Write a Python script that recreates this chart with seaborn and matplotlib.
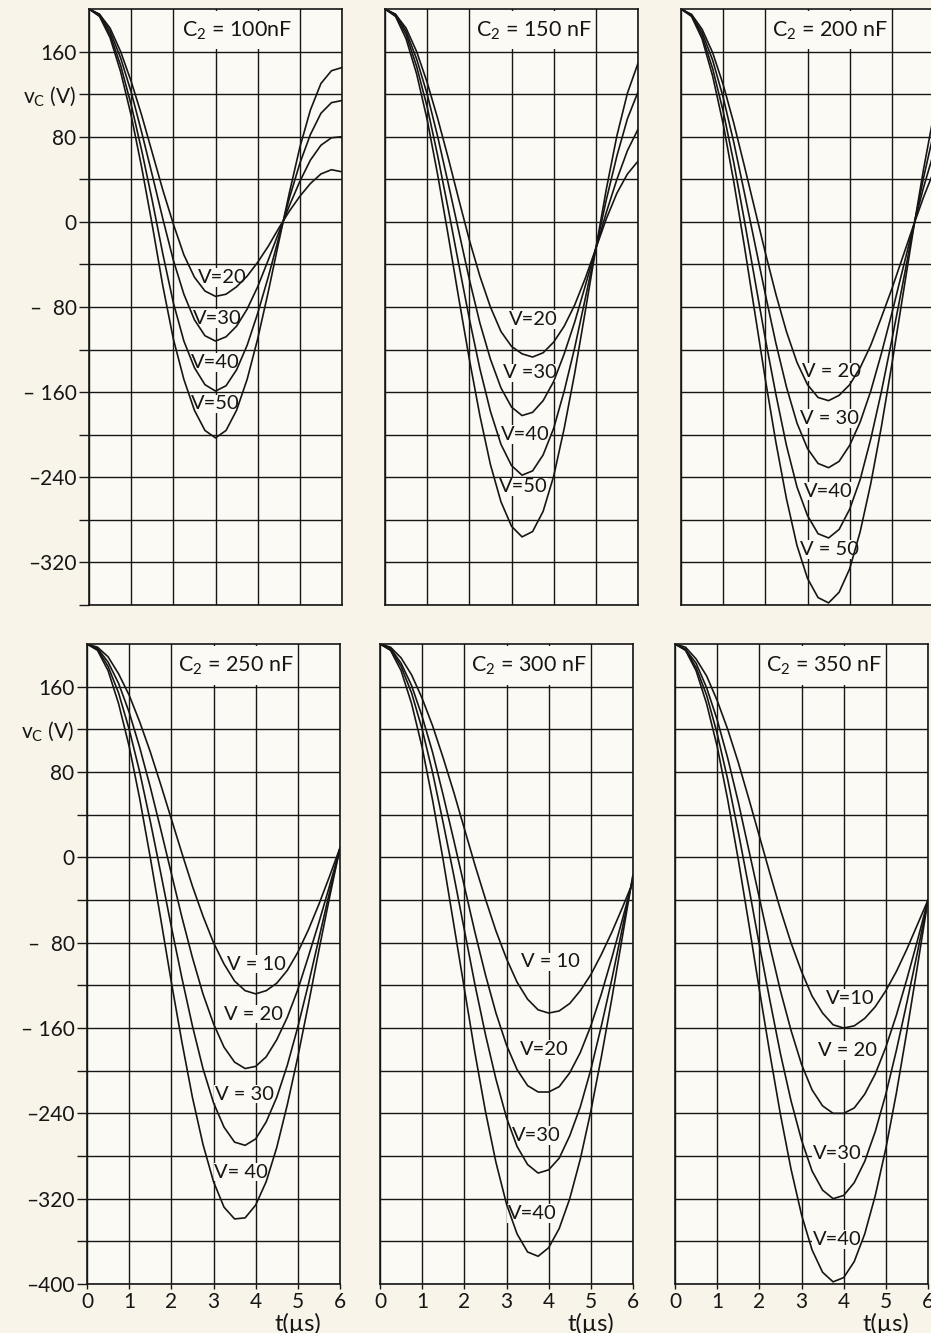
import matplotlib
matplotlib.use("Agg")
import matplotlib.pyplot as plt
import matplotlib.transforms as mtransforms
from matplotlib.patches import Rectangle
import seaborn as sns

# sample times (us), values every 0.25 us
t_us = [0, 0.25, 0.5, 0.75, 1, 1.25, 1.5, 1.75, 2, 2.25, 2.5, 2.75, 3,
        3.25, 3.5, 3.75, 4, 4.25, 4.5, 4.75, 5, 5.25, 5.5, 5.75, 6]

# C2 = 100 nF
c100_v20 = [200, 195, 182, 160, 132, 100, 65, 30, -2, -31, -52, -65, -70,
            -68, -61, -51, -38, -23, -6, 10, 24, 36, 45, 49, 47]
c100_v30 = [200, 195, 179, 154, 122, 84, 44, 3, -36, -68, -92, -107, -112,
            -108, -98, -82, -61, -36, -10, 15, 38, 58, 72, 79, 80]
c100_v40 = [200, 194, 176, 147, 110, 67, 20, -30, -76, -112, -137, -153, -159,
            -154, -139, -116, -86, -52, -15, 22, 55, 82, 102, 112, 114]
c100_v50 = [200, 193, 173, 141, 100, 51, -3, -60, -110, -148, -177, -196, -203,
            -196, -177, -148, -110, -66, -19, 27, 70, 105, 130, 142, 145]

# C2 = 150 nF
c150_v20 = [200, 195, 182, 160, 131, 97, 60, 21, -17, -51, -80, -103, -117,
            -124, -127, -123, -113, -98, -78, -53, -25, 3, 27, 45, 57]
c150_v30 = [200, 195, 179, 153, 120, 80, 36, -9, -54, -95, -129, -156, -174,
            -182, -179, -168, -150, -124, -94, -60, -25, 9, 40, 67, 87]
c150_v40 = [200, 194, 176, 146, 108, 62, 12, -40, -91, -138, -178, -209, -229,
            -238, -234, -219, -194, -159, -118, -72, -25, 21, 62, 97, 122]
c150_v50 = [200, 193, 172, 139, 96, 44, -13, -72, -129, -182, -228, -263, -286,
            -296, -291, -272, -239, -194, -142, -84, -25, 31, 81, 121, 149]

# C2 = 200 nF
c200_v20 = [200, 195, 181, 159, 129, 93, 53, 12, -29, -68, -103, -132, -153,
            -165, -168, -163, -153, -137, -116, -90, -63, -34, -5, 23, 48]
c200_v30 = [200, 194, 178, 152, 117, 75, 28, -20, -68, -114, -155, -189, -213,
            -227, -231, -225, -210, -188, -159, -124, -86, -46, -6, 32, 66]
c200_v40 = [200, 194, 175, 144, 104, 56, 2, -54, -110, -162, -210, -249, -276,
            -293, -297, -289, -270, -242, -204, -160, -111, -60, -8, 41, 85]
c200_v50 = [200, 193, 172, 137, 92, 38, -22, -85, -148, -207, -260, -304, -335,
            -353, -358, -348, -326, -291, -246, -193, -134, -72, -10, 49, 102]

# C2 = 250 nF
c250_v10 = [200, 197, 188, 172, 152, 127, 99, 68, 36, 4, -27, -55, -80,
            -100, -116, -125, -128, -125, -118, -106, -89, -68, -44, -18, 9]
c250_v20 = [200, 196, 183, 163, 136, 103, 66, 26, -15, -56, -94, -128, -156,
            -178, -192, -198, -196, -187, -171, -150, -124, -93, -61, -27, 8]
c250_v30 = [200, 195, 179, 154, 120, 80, 34, -15, -65, -113, -158, -198, -230,
            -253, -267, -270, -264, -248, -225, -195, -159, -119, -76, -33, 8]
c250_v40 = [200, 194, 175, 144, 104, 55, 0, -58, -117, -173, -225, -269, -304,
            -328, -339, -338, -326, -304, -272, -232, -187, -138, -87, -38, 9]

# C2 = 300 nF
c300_v10 = [200, 197, 187, 171, 149, 123, 93, 61, 27, -7, -39, -69, -95,
            -117, -133, -143, -146, -144, -137, -125, -110, -91, -70, -47, -23]
c300_v20 = [200, 196, 182, 161, 132, 98, 58, 16, -27, -70, -110, -146, -176,
            -199, -214, -220, -220, -215, -202, -183, -158, -128, -94, -58, -21]
c300_v30 = [200, 195, 179, 154, 120, 79, 32, -17, -68, -119, -166, -208, -244,
            -271, -288, -296, -293, -282, -261, -234, -199, -158, -114, -66, -18]
c300_v40 = [200, 194, 175, 144, 103, 53, -3, -63, -123, -183, -238, -286, -325,
            -353, -370, -374, -366, -348, -320, -283, -238, -187, -132, -74, -16]

# C2 = 350 nF
c350_v10 = [200, 197, 186, 170, 147, 120, 89, 55, 20, -15, -49, -80, -107,
            -130, -146, -157, -160, -158, -151, -140, -125, -107, -86, -63, -40]
c350_v20 = [200, 195, 182, 159, 129, 93, 52, 7, -38, -83, -125, -162, -194,
            -218, -233, -240, -240, -235, -222, -203, -178, -148, -114, -78, -40]
c350_v30 = [200, 195, 178, 152, 116, 73, 24, -28, -82, -134, -184, -228, -265,
            -294, -312, -320, -317, -305, -285, -257, -222, -181, -136, -89, -40]
c350_v40 = [200, 194, 175, 144, 104, 54, -2, -62, -124, -184, -241, -292, -335,
            -368, -389, -398, -394, -379, -353, -317, -273, -221, -163, -102, -40]

panel_titles = ["C$_2$ = 100nF", "C$_2$ = 150 nF", "C$_2$ = 200 nF",
                "C$_2$ = 250 nF", "C$_2$ = 300 nF", "C$_2$ = 350 nF"]

# (curve, label text, label position in data coords)
panel_curves = [
    [(c100_v20, "V=20", (3.15, -52)), (c100_v30, "V=30", (3.05, -91)),
     (c100_v40, "V=40", (3.0, -132)), (c100_v50, "V=50", (3.0, -171))],
    [(c150_v20, "V=20", (3.52, -92)), (c150_v30, "V =30", (3.44, -142)),
     (c150_v40, "V=40", (3.32, -200)), (c150_v50, "V=50", (3.28, -249))],
    [(c200_v20, "V = 20", (3.57, -141)), (c200_v30, "V = 30", (3.53, -185)),
     (c200_v40, "V=40", (3.49, -253)), (c200_v50, "V = 50", (3.51, -308))],
    [(c250_v10, "V = 10", (4.02, -100)), (c250_v20, "V = 20", (3.94, -147)),
     (c250_v30, "V = 30", (3.74, -222)), (c250_v40, "V= 40", (3.66, -295))],
    [(c300_v10, "V = 10", (4.05, -98)), (c300_v20, "V=20", (3.9, -180)),
     (c300_v30, "V=30", (3.7, -261)), (c300_v40, "V=40", (3.62, -334))],
    [(c350_v10, "V=10", (4.16, -132)), (c350_v20, "V = 20", (4.08, -181)),
     (c350_v30, "V=30", (3.84, -278)), (c350_v40, "V=40", (3.84, -358))],
]

ytick_text = {160: "160", 120: "v$_{\\rm C}$ (V)", 80: "80", 0: "0",
              -80: "\u2013  80", -160: "\u2013 160", -240: "\u2013240",
              -320: "\u2013320", -400: "\u2013400"}

sns.set_theme(style="white")
plt.rcParams["font.family"] = ["Lato", "DejaVu Sans"]
plt.rcParams["mathtext.fontset"] = "custom"
plt.rcParams["mathtext.rm"] = "Lato"
plt.rcParams["font.size"] = 14

ink = "#161616"
page_bg = "#f8f4ea"
panel_bg = "#fcfaf4"

W, H = 931, 1333
fig = plt.figure(figsize=(W / 100, H / 100), dpi=100, facecolor=page_bg)

# pixel boxes of the panels
lefts = [[89, 385, 681], [87, 380, 675]]
rows = [(9, 605, -360), (644, 1284, -400)]

for i in range(6):
    r, c = divmod(i, 3)
    top_px, bot_px, ymin = rows[r]
    ax = fig.add_axes([lefts[r][c] / W, 1 - bot_px / H, 253 / W,
                       (bot_px - top_px) / H])
    ax.set_facecolor(panel_bg)

    for vals, lab, (lx, ly) in panel_curves[i]:
        sns.lineplot(x=t_us, y=vals, ax=ax, color=ink, linewidth=1.2,
                     legend=False, zorder=2, solid_joinstyle="round")
        ax.text(lx, ly, lab, ha="center", va="center", fontsize=14.5, color=ink,
                zorder=1.2, bbox=dict(facecolor=panel_bg, edgecolor="none", pad=0.6))

    # white cells behind the C2 label
    ax.add_patch(Rectangle((2.05, 162), 2.9, 36, facecolor=panel_bg,
                           edgecolor="none", zorder=1))
    ax.text(3.52, 180, panel_titles[i], ha="center", va="center",
            fontsize=15.5, color=ink, zorder=1.2)

    ax.set_xlim(0, 6)
    ax.set_ylim(ymin, 200)
    yt = list(range(ymin, 161, 40))
    ax.set_xticks(range(0, 7))
    ax.set_yticks(yt)
    ax.set_axisbelow(True)
    ax.grid(True, color=ink, linewidth=1.0)
    for sp in ax.spines.values():
        sp.set_visible(True)
        sp.set_color(ink)
        sp.set_linewidth(1.2)
    ax.set_xlabel("")
    ax.set_ylabel("")

    if c == 0:
        ax.set_yticklabels([ytick_text.get(v, "") for v in yt])
        ax.tick_params(axis="y", length=7.5, width=1.0, color=ink, pad=1.5,
                       labelsize=15, labelcolor=ink, left=True)
    else:
        ax.set_yticklabels([])
        ax.tick_params(axis="y", length=0)

    if r == 1:
        ax.set_xticklabels([str(v) for v in range(0, 7)])
        ax.tick_params(axis="x", length=3.5, width=1.0, color=ink, pad=2.5,
                       labelsize=15, labelcolor=ink, bottom=True)
        trans = mtransforms.blended_transform_factory(ax.transData, ax.transAxes)
        ax.text(5.0, -0.062, "t(\u00b5s)", transform=trans, ha="center",
                va="center", fontsize=17, color=ink)
    else:
        ax.set_xticklabels([])
        ax.tick_params(axis="x", length=0)

fig.savefig("out.png", dpi=100, facecolor=page_bg)
